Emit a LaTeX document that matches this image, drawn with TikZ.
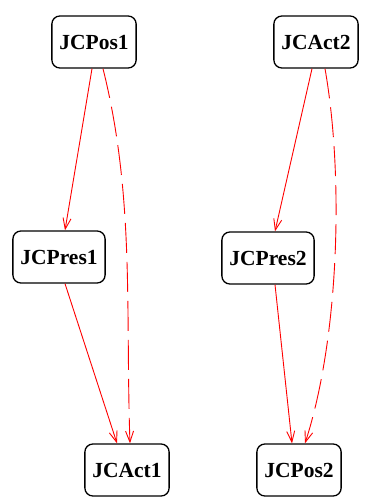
\documentclass[tikz,border=0pt]{standalone}
\usepackage{fontspec}
\setmainfont{Liberation Serif}
\usetikzlibrary{arrows.meta}

\begin{document}
\begin{tikzpicture}[x=1pt,y=-1pt,>={Straight Barb[length=11pt,width=8pt]},thick,
    main node/.style={draw,rounded corners=8pt,line width=1.3pt,minimum height=52pt,inner xsep=7.5pt,font=\bfseries\fontsize{21.5}{23}\selectfont},
    link/.style={red,line width=0.9pt,->},
    long dash/.style={dash pattern=on 30pt off 9pt}]
            \useasboundingbox (0,0) rectangle (366,497);
            \node[main node] (pos1) at (94,42) {JCPos1};
            \node[main node] (pres1) at (59,257) {JCPres1};
            \node[main node] (act1) at (127,470) {JCAct1};
            \node[main node] (act2) at (316,42) {JCAct2};
            \node[main node] (pres2) at (268,258) {JCPres2};
            \node[main node] (pos2) at (299,470) {JCPos2};

            \path[link]
                ([xshift=-2pt]pos1.south) edge ([xshift=6pt]pres1.north)
                ([xshift=9pt]pos1.south) edge[long dash,out=-76,in=92,looseness=0.9] ([xshift=3pt]act1.north)
                ([xshift=6pt]pres1.south) edge ([xshift=-10pt]act1.north)
                ([xshift=-4pt]act2.south) edge ([xshift=7pt]pres2.north)
                ([xshift=9pt]act2.south) edge[long dash,out=-80,in=72,looseness=0.75] ([xshift=6pt]pos2.north)
                ([xshift=7pt]pres2.south) edge ([xshift=-7pt]pos2.north)
            ;
            \end{tikzpicture}
\end{document}
